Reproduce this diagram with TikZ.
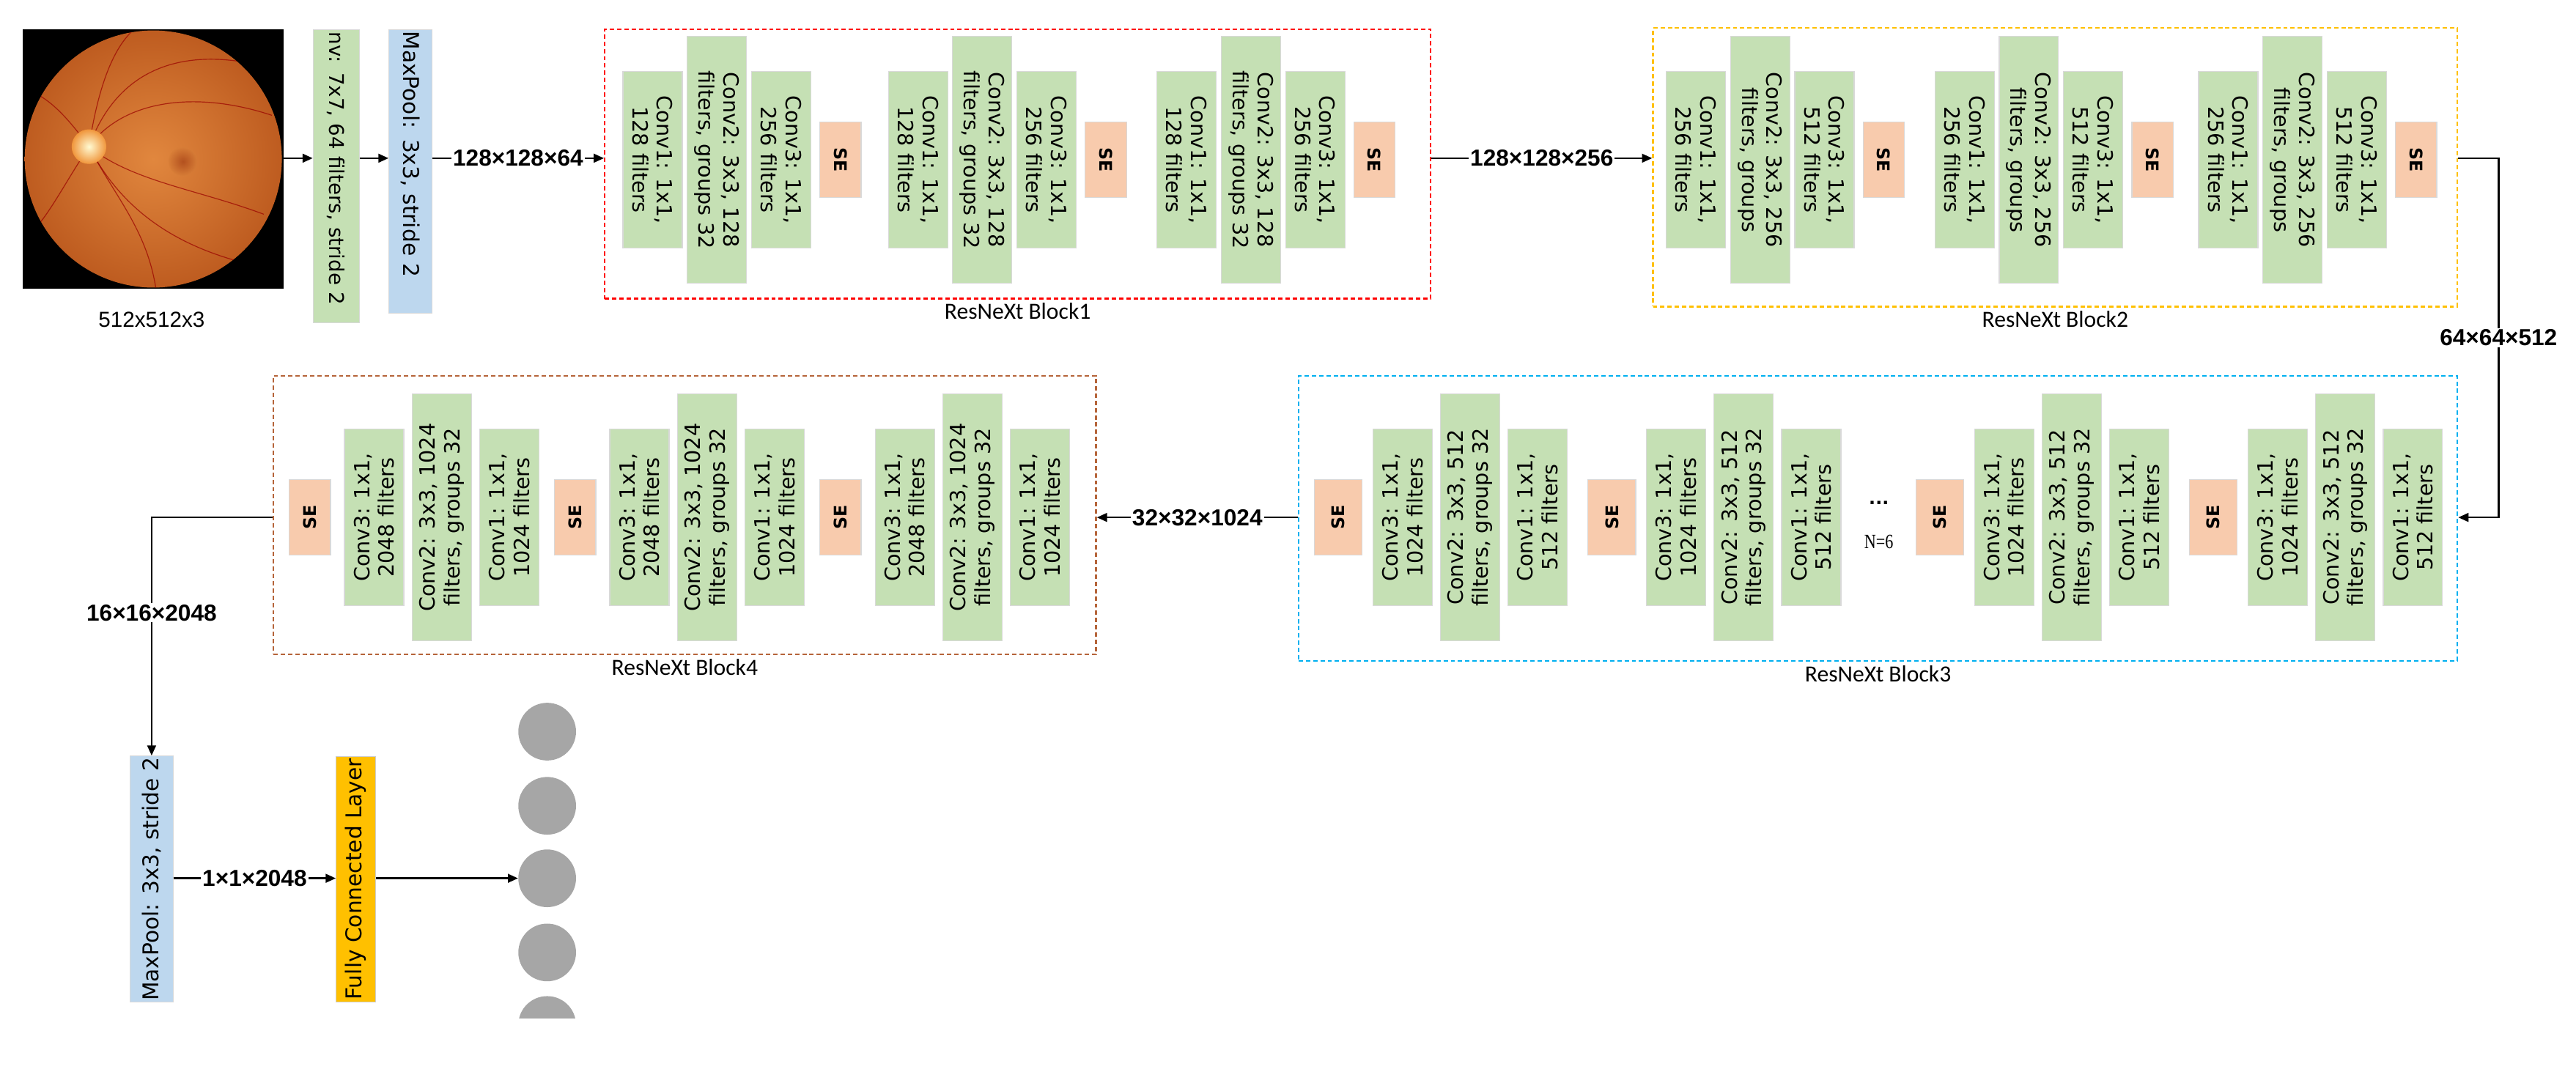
\documentclass[tikz,border=0pt]{standalone}
\usepackage{fontspec}
\setmainfont{DejaVu Sans}
\newfontfamily\lblfont{Liberation Sans}
\newfontfamily\capfont{Carlito}
\newfontfamily\nfont{Liberation Serif}[FakeStretch=0.8]
\usetikzlibrary{arrows.meta,positioning}

\definecolor{convgreen}{HTML}{C5E0B4}
\definecolor{poolblue}{HTML}{BDD7EE}
\definecolor{seorange}{HTML}{F8CBAD}
\definecolor{fcyellow}{HTML}{FFC000}
\definecolor{neurongray}{HTML}{A6A6A6}
\definecolor{redline}{HTML}{FF0000}
\definecolor{orangeline}{HTML}{FFC000}
\definecolor{blueline}{HTML}{00B0F0}
\definecolor{brownline}{HTML}{B5643A}

\tikzset{
  layer/.style={draw=black!15, line width=0.6pt, inner sep=1pt, align=center,
    minimum height=1.44cm, font=\fontsize{14.5}{17}\selectfont},
  short/.style={layer, fill=convgreen, minimum width=4.28cm},
  tall/.style={layer, fill=convgreen, minimum width=6.0cm},
  se/.style={layer, fill=seorange, minimum width=1.84cm, minimum height=1.16cm,
    font=\fontsize{12}{14}\selectfont\bfseries},
  pool/.style={layer, fill=poolblue, minimum height=1.04cm, font=\fontsize{15}{17}\selectfont},
  frame/.style={dash pattern=on 3pt off 2pt, line width=1.2pt, inner sep=0pt},
  blockname/.style={font=\capfont\fontsize{16}{18}\selectfont, inner sep=1pt},
  lbl/.style={fill=white, inner sep=1pt, font=\lblfont\bfseries\fontsize{16}{18}\selectfont},
  arr/.style={line width=1.2pt, -{Triangle[length=7pt,width=6pt]}},
  neuron/.style={circle, fill=neurongray, minimum size=1.4cm, inner sep=0pt},
  vessel/.style={draw=red!60!black, line width=0.6pt, opacity=0.7}
}

\begin{document}
\begin{tikzpicture}[x=0.04cm, y=-0.04cm]
  \useasboundingbox (0,0) rectangle (1563,650.5);

  % input image
  \node[fill=black, minimum width=6.32cm, minimum height=6.28cm, inner sep=0pt] (img) at (93,96.5) {};
  \begin{scope}
    \clip (93,96.5) ellipse [x radius=3.12cm, y radius=3.12cm];
    \shade[inner color={rgb,255:red,225;green,135;blue,62}, outer color={rgb,255:red,190;green,92;blue,32}]
      (93,96.5) ellipse [x radius=3.12cm, y radius=3.12cm];
    \shade[inner color={rgb,255:red,170;green,70;blue,25}, outer color={rgb,255:red,215;green,125;blue,55}, opacity=0.8]
      (111,98) circle (0.35cm);
    \draw[vessel] (54,89) .. controls (70,45) and (105,30) .. (150,38);
    \draw[vessel] (54,89) .. controls (75,60) and (120,55) .. (165,70);
    \draw[vessel] (54,89) .. controls (60,50) and (70,25) .. (85,15);
    \draw[vessel] (54,89) .. controls (75,130) and (110,150) .. (150,160);
    \draw[vessel] (54,89) .. controls (70,120) and (90,140) .. (95,178);
    \draw[vessel] (54,89) .. controls (80,110) and (120,115) .. (160,130);
    \draw[vessel] (54,89) .. controls (40,110) and (30,130) .. (20,140);
    \draw[vessel] (54,89) .. controls (40,70) and (30,60) .. (18,55);
    \shade[inner color={rgb,255:red,255;green,250;blue,210}, outer color={rgb,255:red,240;green,150;blue,60}]
      (54,89) circle (0.42cm);
  \end{scope}
  \node[font=\lblfont\fontsize{15}{17}\selectfont] (imgsize) at (92,194) {512x512x3};

  \coordinate (r1) at (0,96);
  \coordinate (r2) at (0,314);
  \coordinate (r3) at (0,533);
  \coordinate (turn) at (1516,0);

  % stem
  \node[layer, fill=convgreen, minimum width=7.12cm, minimum height=1.12cm, rotate=-90,
    text width=7.0cm, align=left, font=\fontsize{14}{16}\selectfont] (c0) at (204,107) {nv: 7x7, 64 filters, stride 2};
  \node[pool, minimum width=6.88cm, rotate=-90, text width=6.8cm, align=left] (mp) at (249,104) {MaxPool: 3x3, stride 2};

  % block 1
  \foreach \s/\n in {379/a,540/b,703/c}{
    \node[short, rotate=-90] (ba\n1) at (\s+17,97) {Conv1: 1x1,\\128 filters};
    \node[tall, rotate=-90] (ba\n2) at (\s+56,97) {Conv2: 3x3, 128\\filters, groups 32};
    \node[short, rotate=-90] (ba\n3) at (\s+95,97) {Conv3: 1x1,\\256 filters};
    \node[se, rotate=-90, minimum height=1.0cm] (ba\n4) at (\s+131,97) {SE};
  }
  \node[frame, draw=redline, minimum width=20.04cm, minimum height=6.54cm] (b1) at (617.5,99.5) {};
  \node[blockname, below=0.05cm of b1] (b1name) {ResNeXt Block1};

  % block 2
  \foreach \s/\n in {1012/a,1175/b,1335/c}{
    \node[short, rotate=-90] (bb\n1) at (\s+17,97) {Conv1: 1x1,\\256 filters};
    \node[tall, rotate=-90] (bb\n2) at (\s+56,97) {Conv2: 3x3, 256\\filters, groups};
    \node[short, rotate=-90] (bb\n3) at (\s+95,97) {Conv3: 1x1,\\512 filters};
    \node[se, rotate=-90, minimum height=1.0cm] (bb\n4) at (\s+131,97) {SE};
  }
  \node[frame, draw=orangeline, minimum width=19.52cm, minimum height=6.76cm] (b2) at (1247,101.5) {};
  \node[blockname, below=0.05cm of b2] (b2name) {ResNeXt Block2};

  % block 3
  \foreach \s/\n in {797/a,963/b,1162/c,1328/d}{
    \node[se, rotate=90] (bc\n4) at (\s+15,314) {SE};
    \node[short, rotate=90] (bc\n3) at (\s+54,314) {Conv3: 1x1,\\1024 filters};
    \node[tall, rotate=90] (bc\n2) at (\s+95,314) {Conv2: 3x3, 512\\filters, groups 32};
    \node[short, rotate=90] (bc\n1) at (\s+136,314) {Conv1: 1x1,\\512 filters};
  }
  \node[font=\bfseries\fontsize{12}{12}\selectfont, inner sep=0pt] (dots) at (1140,305) {...};
  \node[font=\nfont\fontsize{14}{16}\selectfont, inner sep=0pt] (nrep) at (1140,329) {N=6};
  \node[frame, draw=blueline, minimum width=28.12cm, minimum height=6.92cm] (b3) at (1139.5,314.5) {};
  \node[blockname, below=0.05cm of b3] (b3name) {ResNeXt Block3};

  % block 4
  \foreach \s/\n in {173/a,334/b,495/c}{
    \node[se, rotate=90, minimum height=1.0cm] (bd\n4) at (\s+15,314) {SE};
    \node[short, rotate=90] (bd\n3) at (\s+54,314) {Conv3: 1x1,\\2048 filters};
    \node[tall, rotate=90] (bd\n2) at (\s+95,314) {Conv2: 3x3, 1024\\filters, groups 32};
    \node[short, rotate=90] (bd\n1) at (\s+136,314) {Conv1: 1x1,\\1024 filters};
  }
  \node[frame, draw=brownline, minimum width=19.96cm, minimum height=6.76cm] (b4) at (415.5,312.5) {};
  \node[blockname, below=0.05cm of b4] (b4name) {ResNeXt Block4};

  % head
  \node[pool, minimum width=5.96cm, rotate=90] (mp2) at (92,533.5) {MaxPool: 3x3, stride 2};
  \node[pool, fill=fcyellow, draw=black!20, minimum width=5.96cm, minimum height=0.96cm, rotate=90] (fc) at (216,533.5) {Fully Connected Layer};
  \begin{scope}
    \clip (250,400) rectangle (420,618);
    \foreach \i/\yy in {1/444,2/489,3/533,4/578,5/622}
      \node[neuron] (o\i) at (332,\yy) {};
  \end{scope}

  % connections
  \draw[arr] (r1 -| img.east) -- (r1 -| c0.south);
  \draw[arr] (r1 -| c0.north) -- (r1 -| mp.south);
  \draw[arr] (r1 -| mp.north) -- node[lbl] {128×128×64} (r1 -| b1.west);
  \draw[arr] (r1 -| b1.east) -- node[lbl] {128×128×256} (r1 -| b2.west);
  \draw[arr] (r1 -| b2.east) -- (r1 -| turn) -- node[lbl] {64×64×512} (r2 -| turn) -- (r2 -| b3.east);
  \draw[arr] (r2 -| b3.west) -- node[lbl] {32×32×1024} (r2 -| b4.east);
  \draw[arr] (r2 -| b4.west) -- (r2 -| mp2) -- node[lbl, pos=0.4] {16×16×2048} (mp2.east);
  \draw[arr] (r3 -| mp2.south) -- node[lbl] {1×1×2048} (r3 -| fc.north);
  \draw[arr] (r3 -| fc.south) -- (o3);
\end{tikzpicture}
\end{document}
